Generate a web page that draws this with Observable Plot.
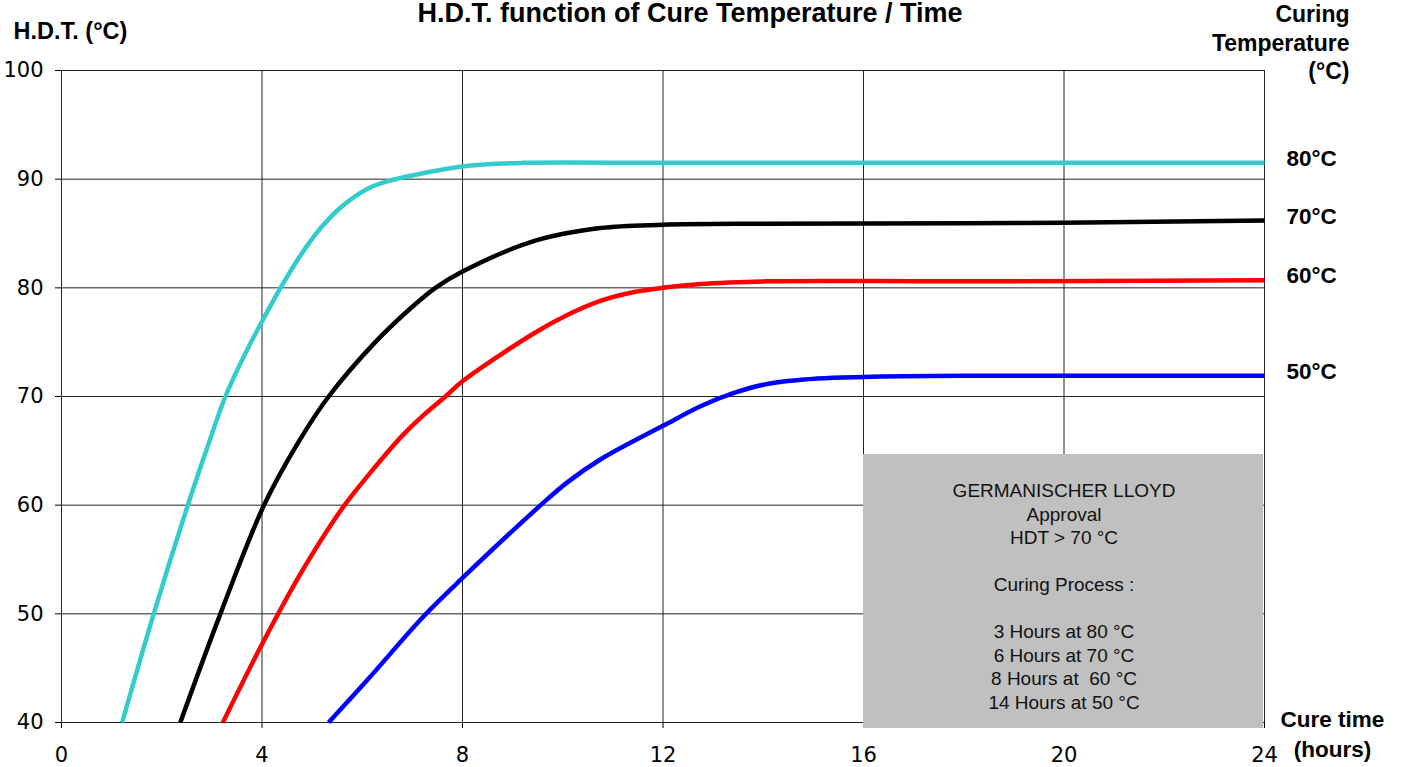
<!DOCTYPE html>
<html>
<head>
<meta charset="utf-8">
<script src="https://cdn.jsdelivr.net/npm/d3@7"></script>
<script src="https://cdn.jsdelivr.net/npm/@observablehq/plot@0.6"></script>
<style>
  html, body { margin: 0; padding: 0; background: #fff; }
  #chart svg { display: block; }
</style>
</head>
<body>
<div id="chart"></div>
<script>
// ---- data ----
const seriesNames = ["80°C", "70°C", "60°C", "50°C"];
const seriesColors = ["#33cccc", "#000000", "#ff0000", "#0000ff"];

const time80 = [1.21, 1.84, 2.52, 2.9, 3.27, 3.65, 4.0, 4.37, 4.77, 5.17, 5.57, 6.1, 6.5, 7.16, 8.16, 9.2, 12, 16, 20, 24];
const hdt80  = [40, 50, 60, 65.2, 70, 73.8, 76.9, 80, 83.0, 85.5, 87.4, 89.1, 89.8, 90.5, 91.25, 91.5, 91.5, 91.5, 91.5, 91.5];

const time70 = [2.37, 3.17, 4.04, 4.7, 5.33, 6.26, 6.96, 7.46, 8.0, 9.42, 10.75, 12, 14, 18, 20, 24];
const hdt70  = [40, 50, 60, 65.6, 70, 75.0, 78.1, 80, 81.5, 84.3, 85.5, 85.8, 85.9, 85.95, 86.0, 86.2];

const time60 = [3.22, 4.0, 4.77, 5.6, 6.2, 6.8, 7.2, 7.66, 8.0, 9.42, 10.09, 10.75, 11.4, 12, 12.75, 14.08, 18, 24];
const hdt60  = [40, 47.2, 53.7, 59.7, 63.2, 66.4, 68.2, 70, 71.4, 75.8, 77.5, 78.8, 79.6, 80.0, 80.35, 80.6, 80.6, 80.7];

const time50 = [5.33, 6.1, 7.23, 8.0, 9.56, 10.09, 10.75, 12, 12.75, 13.4, 14.08, 15.08, 16, 18, 24];
const hdt50  = [40, 43.9, 49.8, 53.3, 60, 62.1, 64.2, 67.3, 69.1, 70.3, 71.15, 71.65, 71.8, 71.9, 71.9];

const xTicks = [0, 4, 8, 12, 16, 20, 24];
const yTicks = [40, 50, 60, 70, 80, 90, 100];

const chartTitle = "H.D.T. function of Cure Temperature / Time";
const yTitle = "H.D.T. (°C)";
const rightTitle = "Curing\nTemperature\n(°C)";
const xTitle = "Cure time\n(hours)";

const boxX = [16, 24];
const boxY = [39.45, 64.66];
const boxText = "GERMANISCHER LLOYD\nApproval\nHDT > 70 °C\n\nCuring Process :\n\n3 Hours at 80 °C\n6 Hours at 70 °C\n8 Hours at  60 °C\n14 Hours at 50 °C";

// ---- build table ----
const times = [time80, time70, time60, time50];
const hdts = [hdt80, hdt70, hdt60, hdt50];
const rows = [];
seriesNames.forEach((s, i) => {
  times[i].forEach((t, j) => rows.push({series: s, time: t, hdt: hdts[i][j]}));
});
const lastPoints = seriesNames.map((s, i) => ({series: s, time: times[i][times[i].length - 1], hdt: hdts[i][hdts[i].length - 1]}));

const boldFont = "Liberation Sans, Arial, sans-serif";

const chart = Plot.plot({
  width: 1404,
  height: 767,
  marginLeft: 61,
  marginRight: 140,
  marginTop: 70,
  marginBottom: 45,
  style: {fontFamily: "DejaVu Sans, sans-serif", fontSize: "21px", color: "#000", background: "#fff", overflow: "visible"},
  x: {domain: [0, 24]},
  y: {domain: [40, 100]},
  color: {domain: seriesNames, range: seriesColors},
  marks: [
    Plot.ruleX(xTicks, {stroke: "#222", strokeWidth: 1}),
    Plot.ruleY(yTicks, {stroke: "#222", strokeWidth: 1}),
    Plot.axisX({ticks: xTicks, tickSize: 6, tickPadding: 19, label: null, fontSize: 21, stroke: "#000"}),
    Plot.axisY({ticks: yTicks, tickSize: 6, tickPadding: 12, label: null, fontSize: 21, stroke: "#000"}),
    Plot.rect([{}], {x1: boxX[0], x2: boxX[1], y1: boxY[0], y2: boxY[1], fill: "#c0c0c0", insetRight: 1}),
    Plot.text([boxText], {x: (boxX[0] + boxX[1]) / 2, y: boxY[1], dy: 26, lineAnchor: "top", lineHeight: 1.237,
      fontFamily: boldFont, fontSize: 19, fill: "#111", textAnchor: "middle"}),
    Plot.line(rows, {x: "time", y: "hdt", z: "series", stroke: "series", strokeWidth: 4.5, curve: "catmull-rom", strokeLinecap: "butt"}),
    Plot.text(lastPoints, {x: "time", y: "hdt", text: "series", dx: 22, dy: -4, textAnchor: "start", lineAnchor: "middle",
      fontFamily: boldFont, fontWeight: "bold", fontSize: 22.5, fill: "#000"}),
    Plot.text([chartTitle], {frameAnchor: "top", dx: 27, dy: -49, lineAnchor: "bottom",
      fontFamily: boldFont, fontWeight: "bold", fontSize: 27, fill: "#000"}),
    Plot.text([yTitle], {frameAnchor: "top-left", dx: -48, dy: -31.7, lineAnchor: "bottom", textAnchor: "start",
      fontFamily: boldFont, fontWeight: "bold", fontSize: 23.5, fill: "#000"}),
    Plot.text([rightTitle], {frameAnchor: "top-right", dx: 85, dy: -68.5, lineAnchor: "top", textAnchor: "end", lineHeight: 1.24,
      fontFamily: boldFont, fontWeight: "bold", fontSize: 23, fill: "#000"}),
    Plot.text([xTitle], {frameAnchor: "bottom-right", dx: 68, dy: -16.6, lineAnchor: "top", textAnchor: "middle", lineHeight: 1.33,
      fontFamily: boldFont, fontWeight: "bold", fontSize: 22.5, fill: "#000"})
  ]
});
document.getElementById("chart").appendChild(chart);
</script>
</body>
</html>
